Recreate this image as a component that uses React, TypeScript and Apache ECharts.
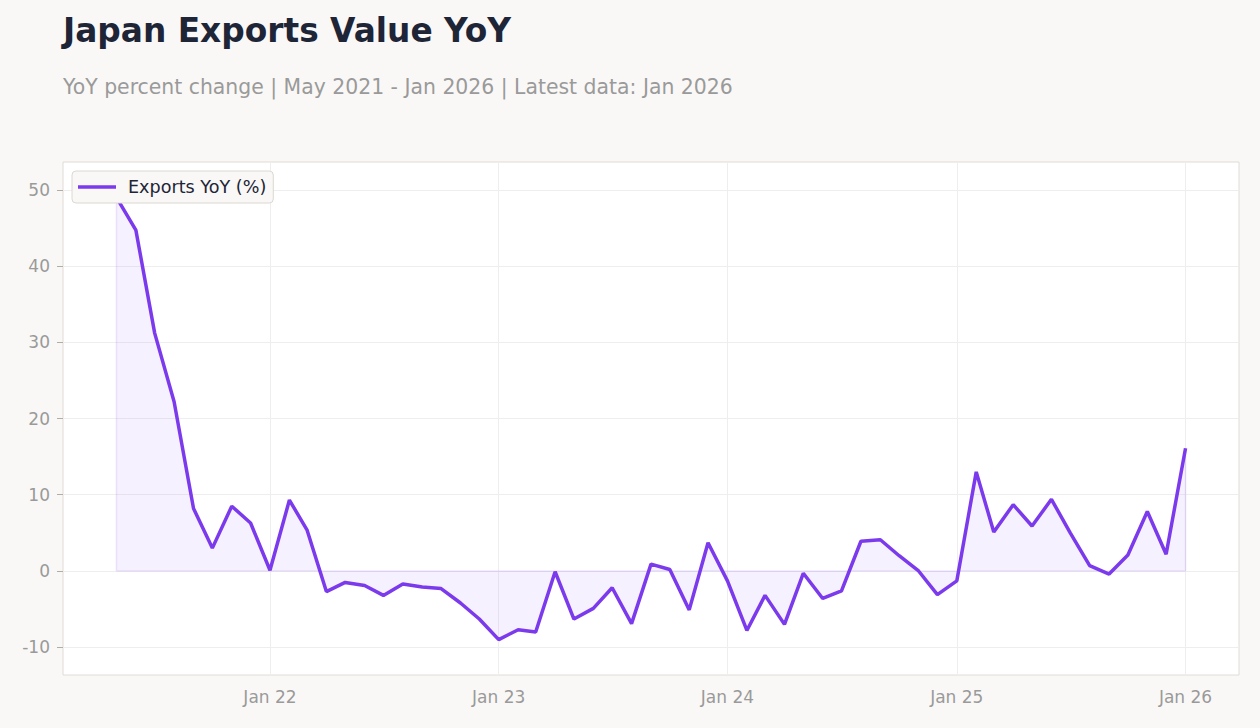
import { useEffect, useRef } from 'react';
import * as echarts from 'echarts';

const TITLE = 'Japan Exports Value YoY';
const SUBTITLE = 'YoY percent change | May 2021 - Jan 2026 | Latest data: Jan 2026';
const SERIES_NAME = 'Exports YoY (%)';

// First observation: May 2021, one value per month after that
const START_YEAR = 2021;
const START_MONTH = 5;

const yoy2021 = [49.0, 44.7, 31.2, 22.2, 8.2, 3.0, 8.5, 6.3];
const yoy2022 = [0.1, 9.3, 5.4, -2.7, -1.5, -1.9, -3.2, -1.7, -2.1, -2.3, -4.2, -6.3];
const yoy2023 = [-9.0, -7.7, -8.0, -0.1, -6.3, -4.9, -2.2, -6.9, 0.9, 0.2, -5.1, 3.7];
const yoy2024 = [-1.3, -7.8, -3.2, -7.0, -0.3, -3.6, -2.6, 3.9, 4.1, 2.0, 0.0, -3.1];
const yoy2025 = [-1.3, 13.0, 5.1, 8.7, 5.9, 9.4, 5.0, 0.7, -0.4, 2.1, 7.8, 2.2];
const yoy2026 = [16.1];

const Y_TICKS = [-10, 0, 10, 20, 30, 40, 50];
const X_TICK_YEARS = [2022, 2023, 2024, 2025, 2026];

const FONT = 'DejaVu Sans, Noto Sans, sans-serif';
const LINE_COLOR = '#7c3aed';

export default function App() {
  const ref = useRef<HTMLDivElement>(null);

  useEffect(() => {
    document.body.style.margin = '0';
    const el = ref.current;
    if (!el) return;
    const chart = echarts.init(el, null, { renderer: 'svg' });

    const values = [...yoy2021, ...yoy2022, ...yoy2023, ...yoy2024, ...yoy2025, ...yoy2026];
    const dates = values.map((_, i) => Date.UTC(START_YEAR, START_MONTH - 1 + i, 1));
    const points = values.map((v, i) => [dates[i], v]);

    const first = dates[0];
    const last = dates[dates.length - 1];
    const xPad = (last - first) * 0.05;
    const vMin = Math.min(...values);
    const vMax = Math.max(...values);
    const yPad = (vMax - vMin) * 0.08;

    // outline of the shaded region: left edge, zero baseline, right edge
    const fillEdge = [
      [first, values[0]],
      [first, 0],
      [last, 0],
      [last, values[values.length - 1]],
    ];

    const xTicks = X_TICK_YEARS.map((y) => Date.UTC(y, 0, 1));

    chart.setOption({
      animation: false,
      backgroundColor: '#f9f8f6',
      textStyle: { fontFamily: FONT },
      title: [
        {
          text: TITLE,
          left: 63,
          top: 11,
          padding: 0,
          textStyle: { fontFamily: FONT, fontSize: 32.8, fontWeight: 'bold', color: '#1e2536', lineHeight: 40 },
        },
        {
          text: SUBTITLE,
          left: 63,
          top: 74,
          padding: 0,
          textStyle: { fontFamily: FONT, fontSize: 20.4, fontWeight: 'normal', color: '#9a9a9a', lineHeight: 26 },
        },
      ],
      legend: {
        left: 72,
        top: 171,
        orient: 'vertical',
        data: [{ name: SERIES_NAME, icon: 'rect' }],
        itemWidth: 38,
        itemHeight: 3.5,
        padding: [7, 7, 7, 6],
        backgroundColor: '#f9f8f6',
        borderColor: '#dcd8d2',
        borderWidth: 1,
        borderRadius: 4,
        textStyle: { fontFamily: FONT, fontSize: 17.6, color: '#1e2536', padding: [0, 0, 0, 7] },
      },
      grid: {
        left: 63,
        right: 21,
        top: 162,
        bottom: 53,
        show: true,
        backgroundColor: '#ffffff',
        borderColor: '#e0dcd6',
        borderWidth: 1,
      },
      xAxis: {
        type: 'value',
        min: first - xPad,
        max: last + xPad,
        axisLine: { show: false },
        axisTick: { show: true, length: 6, lineStyle: { color: '#b0aca6' }, customValues: xTicks },
        axisLabel: {
          customValues: xTicks,
          fontFamily: FONT,
          fontSize: 17,
          color: '#9a9a9a',
          margin: 13,
          formatter: (v: number) => 'Jan ' + String(new Date(v).getUTCFullYear()).slice(2),
        },
        splitLine: { show: false },
      },
      yAxis: {
        type: 'value',
        min: vMin - yPad,
        max: vMax + yPad,
        axisLine: { show: false },
        axisTick: { show: true, length: 6, lineStyle: { color: '#b0aca6' }, customValues: Y_TICKS },
        axisLabel: {
          customValues: Y_TICKS,
          fontFamily: FONT,
          fontSize: 17,
          color: '#9a9a9a',
          margin: 13,
        },
        splitLine: { show: false },
      },
      series: [
        {
          name: SERIES_NAME,
          type: 'line',
          data: points,
          symbol: 'none',
          lineStyle: { color: LINE_COLOR, width: 3.5 },
          itemStyle: { color: LINE_COLOR },
          areaStyle: { color: 'rgba(124, 58, 237, 0.1)', origin: 0 },
          z: 3,
          // grid lines at the labelled ticks
          markLine: {
            silent: true,
            symbol: 'none',
            label: { show: false },
            lineStyle: { color: '#efeeee', width: 1, type: 'solid' },
            z: 1,
            data: [
              ...xTicks.map((t) => ({ xAxis: t })),
              ...Y_TICKS.map((t) => ({ yAxis: t })),
            ],
          },
        },
        {
          name: 'fill-edge',
          type: 'line',
          data: fillEdge,
          symbol: 'none',
          silent: true,
          lineStyle: { color: 'rgba(124, 58, 237, 0.12)', width: 1.5 },
          z: 2,
        },
      ],
    });

    return () => chart.dispose();
  }, []);

  return <div ref={ref} style={{ position: 'fixed', left: 0, top: 0, width: 1260, height: 728 }} />;
}
